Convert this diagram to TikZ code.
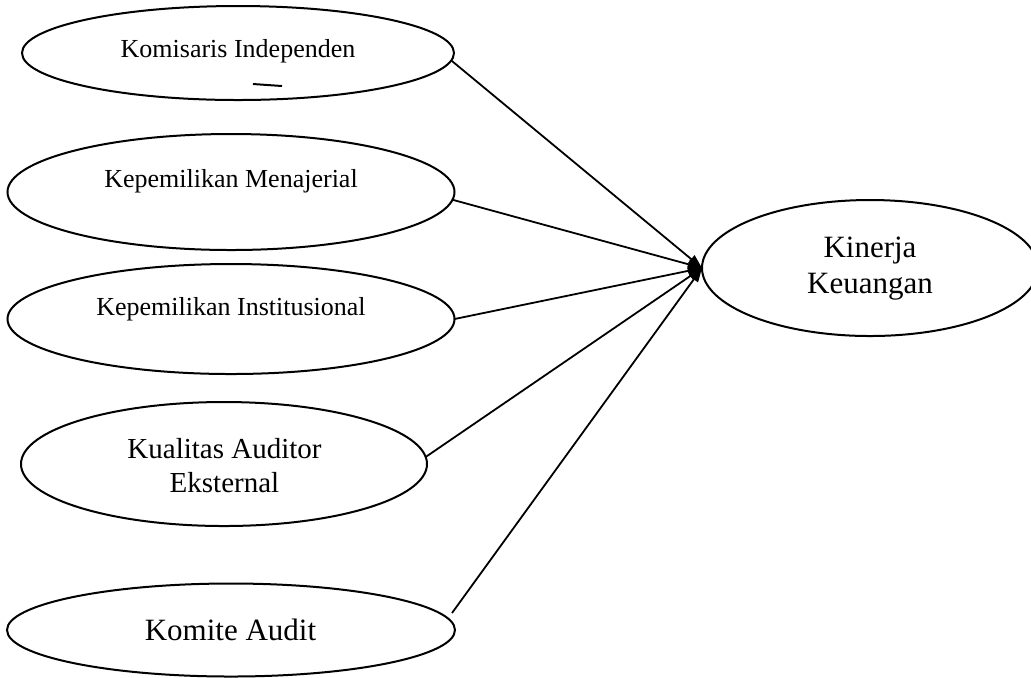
\documentclass[tikz,border=0pt]{standalone}
\usepackage{fontspec}
\setmainfont{Liberation Serif}
\usepackage{tikz}
\usetikzlibrary{shapes.geometric,arrows.meta}
\tikzset{>={Triangle[length=7pt,width=5pt]}}

\begin{document}
\begin{tikzpicture}[x=0.5pt,y=-0.5pt,
                    oval/.style={ellipse, draw, black, line width=1pt, inner sep=0pt, outer sep=0pt},
                    small/.style={anchor=base, font=\fontsize{13}{15}\selectfont},
                    mid/.style={anchor=base, align=center, font=\fontsize{14.5}{16.7}\selectfont},
                    big/.style={anchor=base, align=center, font=\fontsize{15.5}{18}\selectfont},
                    link/.style={line width=0.9pt, black, ->},
                   ]

\useasboundingbox (0,0) rectangle (1031,677);

% variabel independen
\node[oval, minimum width=216pt, minimum height=47pt] (kom) at (238,53) {};
\node[oval, minimum width=223.5pt, minimum height=58pt] (man) at (231,192) {};
\node[oval, minimum width=223.5pt, minimum height=55pt] (ins) at (231,319) {};
\node[oval, minimum width=203pt, minimum height=62pt] (kua) at (224,464) {};
\node[oval, minimum width=224pt, minimum height=46.5pt] (kmt) at (231,630) {};

% variabel dependen
\node[oval, minimum width=168pt, minimum height=68pt] (kin) at (870,268) {};

\node[small] (komtxt) at (238,57) {Komisaris Independen};
\draw[line width=1pt] (253,84) -- (282,86);
\node[small] (mantxt) at (231,187) {Kepemilikan Menajerial};
\node[small] (instxt) at (231,315) {Kepemilikan Institusional};
\node[mid] (kuatxt) at (224.5,492) {Kualitas Auditor\\Eksternal};
\node[big] (kmttxt) at (230.5,640) {Komite Audit};
\node[big] (kintxt) at (870,293) {Kinerja\\Keuangan};

\draw[link] (kom.-2) -- (kin.west);
\draw[link] (man.-2) -- (kin.west);
\draw[link] (ins.0) -- (kin.west);
\draw[link] (kua.2) -- (kin.west);
\draw[link] ([xshift=-1.5pt,yshift=8.5pt]kmt.east) -- (kin.west);

\end{tikzpicture}
\end{document}
